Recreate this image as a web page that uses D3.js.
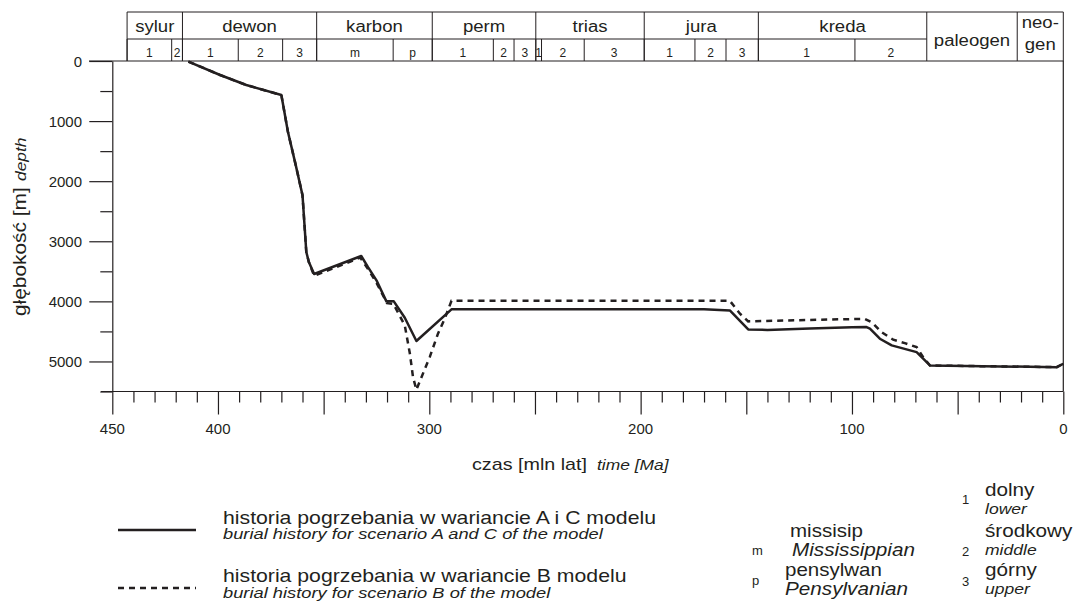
<!DOCTYPE html>
<html><head><meta charset="utf-8">
<script src="https://cdn.jsdelivr.net/npm/d3@7"></script>
<style>
body{margin:0;background:#fff;}
svg text{font-family:"Liberation Sans",Arial,Helvetica,sans-serif;fill:#231f20;}
</style></head>
<body><svg id="c" width="1077" height="606"></svg>
<script>
// ---------- data ----------
const periods = [
  {name:"sylur", from:443, to:416.8},
  {name:"dewon", from:416.8, to:353.3},
  {name:"karbon", from:353.3, to:298.6},
  {name:"perm", from:298.6, to:249.6},
  {name:"trias", from:249.6, to:198.3},
  {name:"jura", from:198.3, to:144.3},
  {name:"kreda", from:144.3, to:64.6},
  {name:"paleogen", from:64.6, to:21.8},
  {name:"neo-|gen", from:21.8, to:0}
];
const epochs = [
  {name:"1", from:443, to:421.9},{name:"2", from:421.9, to:416.8},
  {name:"1", from:416.8, to:390.4},{name:"2", from:390.4, to:369.4},{name:"3", from:369.4, to:353.3},
  {name:"m", from:353.3, to:317.1},{name:"p", from:317.1, to:298.6},
  {name:"1", from:298.6, to:269.7},{name:"2", from:269.7, to:259.9},{name:"3", from:259.9, to:249.6},
  {name:"1", from:249.6, to:246.9},{name:"2", from:246.9, to:226.7},{name:"3", from:226.7, to:198.3},
  {name:"1", from:198.3, to:174.3},{name:"2", from:174.3, to:159.6},{name:"3", from:159.6, to:144.3},
  {name:"1", from:144.3, to:98.6},{name:"2", from:98.6, to:64.6}
];
// burial history, scenario A and C (age Ma, depth m)
const seriesAC = [
  [414,10],[399,233],[386.6,400],[370,567],[366.9,1178],[363.2,1733],[360,2233],
  [358.2,3178],[357,3345],[354.5,3545],[332.2,3245],[329,3430],[325,3650],[320.3,4000],
  [316.8,4000],[311.6,4272],[306.1,4660],[289.5,4133],[170,4133],[157.8,4150],
  [149.1,4467],[140,4475],[120,4450],[100,4430],[93.1,4428],[91.5,4455],[86.8,4622],
  [81.2,4733],[69.4,4845],[63.1,5067],[3.1,5095],[0,5038]
];
// burial history, scenario B
const seriesB = [
  [414,10],[399,233],[386.6,400],[370,567],[366.9,1178],[363.2,1733],[360,2233],
  [358.2,3178],[357,3345],[354.5,3575],[332.7,3272],[329,3460],[325,3690],[320,4030],
  [317,4040],[311.6,4400],[309.2,4867],[307.7,5262],[306.1,5472],[303.7,5262],
  [299.8,4928],[295.9,4538],[292.7,4288],[289.5,3990],[157.8,3990],[153,4205],
  [149.1,4333],[120,4310],[94,4290],[90.5,4350],[86,4512],[80.5,4638],[75,4695],
  [69.4,4762],[66.3,4928],[63.1,5067],[3.1,5095],[0,5038]
];
const xLabels = [450,400,300,200,100,0];
const yLabels = [0,1000,2000,3000,4000,5000];
const legendItems = [
  {pl:"historia pogrzebania w wariancie A i C modelu", en:"burial history for scenario A and C of the model", dash:null},
  {pl:"historia pogrzebania w wariancie B modelu", en:"burial history for scenario B of the model", dash:"6,5"}
];
const abbrevs = [
  {k:"m", pl:"missisip", en:"Mississippian"},
  {k:"p", pl:"pensylwan", en:"Pensylvanian"}
];
const ranks = [
  {k:"1", pl:"dolny", en:"lower"},
  {k:"2", pl:"środkowy", en:"middle"},
  {k:"3", pl:"górny", en:"upper"}
];

// ---------- drawing ----------
const svg = d3.select("#c");
const ink = "#231f20";
const x = d3.scaleLinear().domain([450,0]).range([112.3,1063.3]);
const y = d3.scaleLinear().domain([0,5500]).range([61,391.5]);
const SX = 1.16;

function txt(g, px, py, s, size, opt={}){
  const sx = opt.sx||1;
  let tr = `translate(${px},${py})`;
  if(opt.rot) tr += ` rotate(${opt.rot})`;
  tr += ` scale(${sx},1)`;
  return g.append("text").attr("transform", tr)
    .attr("font-size", size).attr("text-anchor", opt.anchor||"start")
    .attr("font-style", opt.italic?"italic":"normal").text(s);
}

// header table
const hdr = svg.append("g").attr("stroke", ink).attr("stroke-width",1).attr("fill","none");
const hTop=12, hMid=39, hBot=61;
hdr.append("line").attr("x1",x(443)).attr("x2",x(0)).attr("y1",hTop).attr("y2",hTop);
hdr.append("line").attr("x1",x(443)).attr("x2",x(64.6)).attr("y1",hMid).attr("y2",hMid);
periods.forEach(p=>{
  hdr.append("line").attr("x1",x(p.from)).attr("x2",x(p.from)).attr("y1",hTop).attr("y2",hBot);
});
hdr.append("line").attr("x1",x(0)).attr("x2",x(0)).attr("y1",hTop).attr("y2",hBot);
epochs.forEach(e=>{
  hdr.append("line").attr("x1",x(e.from)).attr("x2",x(e.from)).attr("y1",hMid).attr("y2",hBot);
});
const ht = svg.append("g");
periods.forEach(p=>{
  const cx = (x(p.from)+x(p.to))/2;
  if(p.name==="paleogen"){
    txt(ht, cx, 46, p.name, 16, {anchor:"middle", sx:SX});
  } else if(p.name.indexOf("|")>=0){
    const parts = p.name.split("|");
    txt(ht, cx, 28, parts[0], 16, {anchor:"middle", sx:SX});
    txt(ht, cx, 50, parts[1], 16, {anchor:"middle", sx:SX});
  } else {
    txt(ht, cx, 32, p.name, 16, {anchor:"middle", sx:SX});
  }
});
epochs.forEach(e=>{
  const cx = (x(e.from)+x(e.to))/2;
  txt(ht, cx, 57, e.name, 12, {anchor:"middle"});
});

// plot frame
const fr = svg.append("g").attr("stroke", ink).attr("stroke-width",1.2).attr("fill","none");
fr.append("line").attr("x1",89).attr("x2",x(0)).attr("y1",y(0)).attr("y2",y(0));
fr.append("line").attr("x1",x(0)).attr("x2",x(0)).attr("y1",y(0)).attr("y2",y(5500));

// y axis
const yAxis = d3.axisLeft(y).tickValues(d3.range(0,5501,500)).tickSize(0).tickFormat("");
const yg = svg.append("g").attr("transform",`translate(${x(450)},0)`).call(yAxis);
yg.select(".domain").attr("stroke",ink).attr("stroke-width",1.2);
yg.selectAll(".tick line").remove();
yg.selectAll(".tick").append("line")
  .attr("x1", d=> (d%1000===0 && d<=5000)? -23 : -12).attr("x2",0)
  .attr("stroke",ink).attr("stroke-width",1.2);
yLabels.forEach(v=> txt(svg, 82, y(v)+5.5, String(v), 15, {anchor:"end"}));

// x axis
const xAxis = d3.axisBottom(x).tickValues(d3.range(0,451,10)).tickSize(0).tickFormat("");
const xg = svg.append("g").attr("transform",`translate(0,${y(5500)})`).call(xAxis);
xg.select(".domain").remove();
xg.append("line").attr("x1",101).attr("x2",x(0)).attr("stroke",ink).attr("stroke-width",1.2);
xg.selectAll(".tick line").remove();
xg.selectAll(".tick").append("line")
  .attr("y1",0).attr("y2", d=> d%50===0 ? 23 : 11)
  .attr("stroke",ink).attr("stroke-width",1.2);
xLabels.forEach(v=> txt(svg, x(v), 434, String(v), 15, {anchor:"middle"}));

// axis titles
txt(svg, 472, 470, "czas [mln lat]", 17, {sx:SX});
txt(svg, 597, 470, "time [Ma]", 15, {italic:true, sx:SX});
txt(svg, 26, 316, "głębokość [m]", 18, {rot:-90, sx:SX});
txt(svg, 26, 181, "depth", 15, {rot:-90, italic:true, sx:SX});

// curves
const line = d3.line().x(d=>x(d[0])).y(d=>y(d[1]));
svg.append("path").datum(seriesB).attr("d",line).attr("fill","none")
  .attr("stroke",ink).attr("stroke-width",2.5).attr("stroke-dasharray","6,5");
svg.append("path").datum(seriesAC).attr("d",line).attr("fill","none")
  .attr("stroke",ink).attr("stroke-width",2.5).attr("stroke-linejoin","round");

// legend
const lg = svg.append("g");
legendItems.forEach((it,i)=>{
  const ly = 530 + i*58;
  lg.append("line").attr("x1",118).attr("x2",196).attr("y1",ly).attr("y2",ly)
    .attr("stroke",ink).attr("stroke-width",2.5).attr("stroke-dasharray", it.dash);
  txt(lg, 223, ly-6, it.pl, 18, {sx:1.18});
  txt(lg, 223, ly+[9,10][i], it.en, 15, {italic:true, sx:1.22});
});
abbrevs.forEach((a,i)=>{
  const by = [537,576][i];
  txt(lg, 752, by+[18,9][i], a.k, 13);
  txt(lg, [790,785][i], by, a.pl, 18, {sx:1.14});
  txt(lg, [792,785][i], by+19, a.en, 18, {italic:true, sx:1.15});
});
ranks.forEach((r,i)=>{
  const by = [496,537,576][i];
  txt(lg, 962, by+[8,19,10][i], r.k, 13);
  txt(lg, 985, by, r.pl, 18, {sx:1.15});
  txt(lg, 985, by+18, r.en, 15, {italic:true, sx:1.17});
});
</script></body></html>
